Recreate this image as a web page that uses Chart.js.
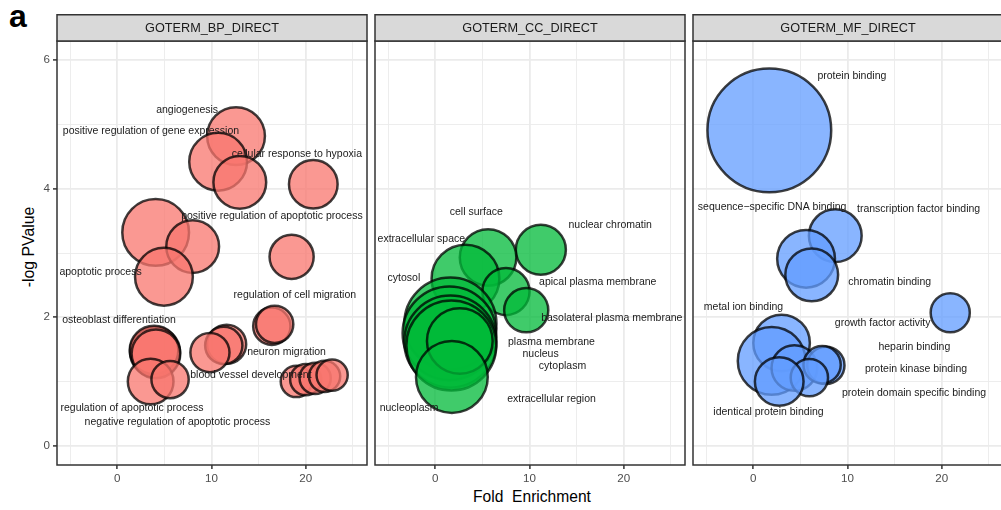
<!DOCTYPE html>
<html>
<head>
<meta charset="utf-8">
<script src="https://cdn.jsdelivr.net/npm/chart.js@4.4.1/dist/chart.umd.min.js"></script>
<style>
  html, body { margin: 0; padding: 0; background: #fff; }
  body { width: 1001px; height: 510px; position: relative; overflow: hidden;
         font-family: "Liberation Sans", Arial, sans-serif; }
  canvas { position: absolute; top: 14px; }
  #tag { position: absolute; left: 9px; top: 0px; font-size: 32px; line-height: 1; font-weight: bold; color: #000; }
  #ytitle { position: absolute; left: 29px; top: 247px; transform: translate(-50%, -50%) rotate(-90deg);
            font-size: 15.8px; line-height: 1; color: #000; white-space: nowrap; }
  #xtitle { position: absolute; left: 532px; top: 497px; transform: translate(-50%, -50%);
            font-size: 15.6px; line-height: 1; color: #000; white-space: pre; }
</style>
</head>
<body>
<div id="tag">a</div>
<div id="ytitle">-log PValue</div>
<div id="xtitle">Fold  Enrichment</div>
<canvas id="bp" width="372" height="476" style="left:0px"></canvas>
<canvas id="cc" width="320" height="476" style="left:370px"></canvas>
<canvas id="mf" width="320" height="476" style="left:688px"></canvas>
<script>
// ---- axes ----
const xMajor = [0, 10, 20];
const xMinor = [-5, 5, 15, 25];
const yMajor = [0, 2, 4, 6];
const yMinor = [1, 3, 5];
const xLimits = [-6.4, 26.5];
const yLimits = [-0.3, 6.3];

// ---- GOTERM_BP_DIRECT ----
const bpFold  = [12.6, 10.7, 13.0, 20.8, 4.07, 8.0, 18.5, 4.95, 16.4, 16.7, 4.0, 3.9, 4.1, 11.6, 11.3, 9.83, 3.54, 5.6, 19.0, 20.0, 21.0, 22.0, 22.8];
const bpLogP  = [4.82, 4.42, 4.10, 4.07, 3.32, 3.10, 2.94, 2.63, 1.86, 1.89, 1.46, 1.49, 1.43, 1.58, 1.56, 1.45, 1.00, 1.03, 1.00, 1.03, 1.05, 1.08, 1.10];
const bpCount = [24, 24, 20, 17, 32, 20, 14, 24, 10, 10, 18, 17, 17, 11, 10, 11, 15, 10, 7, 7, 7, 7, 7];
const bpTerms = ["angiogenesis", "positive regulation of gene expression", "cellular response to hypoxia",
  "positive regulation of apoptotic process", "apoptotic process", "regulation of cell migration",
  "osteoblast differentiation", "neuron migration", "blood vessel development",
  "regulation of apoptotic process", "negative regulation of apoptotic process"];
const bpTermX = [7.41, 3.57, 19.06, 16.41, -1.78, 18.84, 0.18, 17.96, 14.18, 1.56, 6.38];
const bpTermY = [5.23, 4.89, 4.54, 3.57, 2.71, 2.35, 1.96, 1.45, 1.10, 0.59, 0.36];

// ---- GOTERM_CC_DIRECT ----
const ccFold  = [11.2, 5.6, 3.2, 7.5, 9.65, 1.6, 1.5, 1.6, 1.7, 2.6, 1.76];
const ccLogP  = [3.05, 2.93, 2.60, 2.40, 2.11, 1.90, 1.75, 1.62, 1.56, 1.63, 1.07];
const ccCount = [18, 23, 33, 16, 14, 61, 63, 61, 58, 31, 37];
const ccTerms = ["cell surface", "nuclear chromatin", "extracellular space", "cytosol",
  "apical plasma membrane", "basolateral plasma membrane", "plasma membrane", "nucleus",
  "cytoplasm", "extracellular region", "nucleoplasm"];
const ccTermX = [4.35, 18.56, -1.48, -3.33, 17.24, 18.73, 12.33, 11.17, 13.5, 12.33, -2.78];
const ccTermY = [3.64, 3.43, 3.21, 2.61, 2.55, 1.98, 1.62, 1.42, 1.24, 0.73, 0.58];

// ---- GOTERM_MF_DIRECT ----
const mfFold  = [1.7, 8.7, 5.6, 6.2, 20.9, 3.0, 1.95, 4.36, 7.7, 7.3, 5.95, 2.75];
const mfLogP  = [4.91, 3.27, 2.91, 2.66, 2.07, 1.60, 1.32, 1.21, 1.25, 1.26, 1.06, 1.00];
const mfCount = [110, 20, 24, 20, 11, 23, 33, 15, 10, 10, 10, 17];
const mfTerms = ["protein binding", "sequence\u2212specific DNA binding", "transcription factor binding",
  "chromatin binding", "metal ion binding", "growth factor activity", "heparin binding",
  "protein kinase binding", "protein domain specific binding", "identical protein binding"];
const mfTermX = [10.46, 2.0, 17.54, 14.47, -1.04, 13.73, 17.09, 17.27, 17.06, 1.61];
const mfTermY = [5.76, 3.72, 3.68, 2.55, 2.16, 1.91, 1.54, 1.19, 0.82, 0.53];

const FONT = '"Liberation Sans", Arial, sans-serif';

// bubble area proportional to gene count
const radiusFor = n => 5.9 * Math.sqrt(n);

// white panel, facet strip, frame and term labels
const facetPlugin = {
  id: 'facet',
  beforeDraw(chart) {
    const a = chart.chartArea, ctx = chart.ctx;
    ctx.save();
    ctx.fillStyle = '#ffffff';
    ctx.fillRect(a.left, a.top, a.right - a.left, a.bottom - a.top);
    ctx.restore();
  },
  afterDatasetsDraw(chart, args, opts) {
    const ctx = chart.ctx, xs = chart.scales.x, ys = chart.scales.y;
    ctx.save();
    ctx.font = '10.5px ' + FONT;
    ctx.fillStyle = '#1a1a1a';
    ctx.textAlign = 'center';
    ctx.textBaseline = 'middle';
    opts.terms.forEach((t, i) => {
      ctx.fillText(t, xs.getPixelForValue(opts.termX[i]), ys.getPixelForValue(opts.termY[i]));
    });
    ctx.restore();
  },
  afterDraw(chart, args, opts) {
    const a = chart.chartArea, ctx = chart.ctx;
    ctx.save();
    ctx.strokeStyle = '#333333';
    ctx.lineWidth = 1.5;
    ctx.strokeRect(a.left, a.top, a.right - a.left, a.bottom - a.top);
    ctx.fillStyle = '#d9d9d9';
    ctx.fillRect(a.left, 0.75, a.right - a.left, a.top - 0.75);
    ctx.strokeRect(a.left, 0.75, a.right - a.left, a.top - 0.75);
    ctx.fillStyle = '#1a1a1a';
    ctx.font = '12.7px ' + FONT;
    ctx.textAlign = 'center';
    ctx.textBaseline = 'middle';
    ctx.fillText(opts.strip, (a.left + a.right) / 2, a.top / 2 + 0.5);
    ctx.restore();
  }
};

function isMajor(v, majors) { return majors.indexOf(v) >= 0; }

function makePanel(id, strip, fold, logp, count, fill, terms, termX, termY, showY) {
  const pts = fold.map((x, i) => ({ x: x, y: logp[i], r: radiusFor(count[i]) }));
  return new Chart(document.getElementById(id), {
    type: 'bubble',
    data: {
      datasets: [{
        data: pts,
        backgroundColor: fill,
        borderColor: 'rgba(0,0,0,0.75)',
        borderWidth: 2.5,
        hoverBorderWidth: 2.5
      }]
    },
    plugins: [facetPlugin],
    options: {
      responsive: false,
      animation: false,
      events: [],
      layout: { autoPadding: false, padding: { top: 27, left: showY ? 0 : 5, right: 5, bottom: 0 } },
      plugins: {
        legend: { display: false },
        tooltip: { enabled: false },
        facet: { strip: strip, terms: terms, termX: termX, termY: termY }
      },
      scales: {
        x: {
          type: 'linear', position: 'bottom',
          min: xLimits[0], max: xLimits[1],
          afterBuildTicks: s => { s.ticks = xMinor.concat(xMajor).sort((p, q) => p - q).map(v => ({ value: v })); },
          ticks: {
            autoSkip: false, maxRotation: 0,
            callback: v => isMajor(v, xMajor) ? String(v) : '',
            color: '#4d4d4d', font: { size: 11.6, family: FONT }, padding: 3
          },
          grid: {
            color: '#ebebeb',
            lineWidth: c => (c.tick && isMajor(c.tick.value, xMajor)) ? 1.8 : 0.9,
            tickColor: c => (c.tick && isMajor(c.tick.value, xMajor)) ? '#333333' : 'rgba(0,0,0,0)',
            tickWidth: 1.5, tickLength: 4
          },
          border: { display: false },
          afterFit: s => { s.height = 25; s.paddingLeft = 0; s.paddingRight = 0; }
        },
        y: {
          type: 'linear', position: 'left',
          min: yLimits[0], max: yLimits[1],
          afterBuildTicks: s => { s.ticks = yMinor.concat(yMajor).sort((p, q) => p - q).map(v => ({ value: v })); },
          ticks: {
            display: showY, autoSkip: false,
            callback: v => isMajor(v, yMajor) ? String(v) : '',
            color: '#4d4d4d', font: { size: 11.6, family: FONT }, padding: 3
          },
          grid: {
            color: '#ebebeb',
            lineWidth: c => (c.tick && isMajor(c.tick.value, yMajor)) ? 1.8 : 0.9,
            drawTicks: showY,
            tickColor: c => (c.tick && isMajor(c.tick.value, yMajor)) ? '#333333' : 'rgba(0,0,0,0)',
            tickWidth: 1.5, tickLength: 4
          },
          border: { display: false },
          afterFit: s => { s.width = showY ? 57 : 0; s.paddingTop = 0; s.paddingBottom = 0; }
        }
      }
    }
  });
}

makePanel('bp', 'GOTERM_BP_DIRECT', bpFold, bpLogP, bpCount, 'rgba(248,118,109,0.75)', bpTerms, bpTermX, bpTermY, true);
makePanel('cc', 'GOTERM_CC_DIRECT', ccFold, ccLogP, ccCount, 'rgba(0,186,56,0.75)', ccTerms, ccTermX, ccTermY, false);
makePanel('mf', 'GOTERM_MF_DIRECT', mfFold, mfLogP, mfCount, 'rgba(97,156,255,0.75)', mfTerms, mfTermX, mfTermY, false);
</script>
</body>
</html>
